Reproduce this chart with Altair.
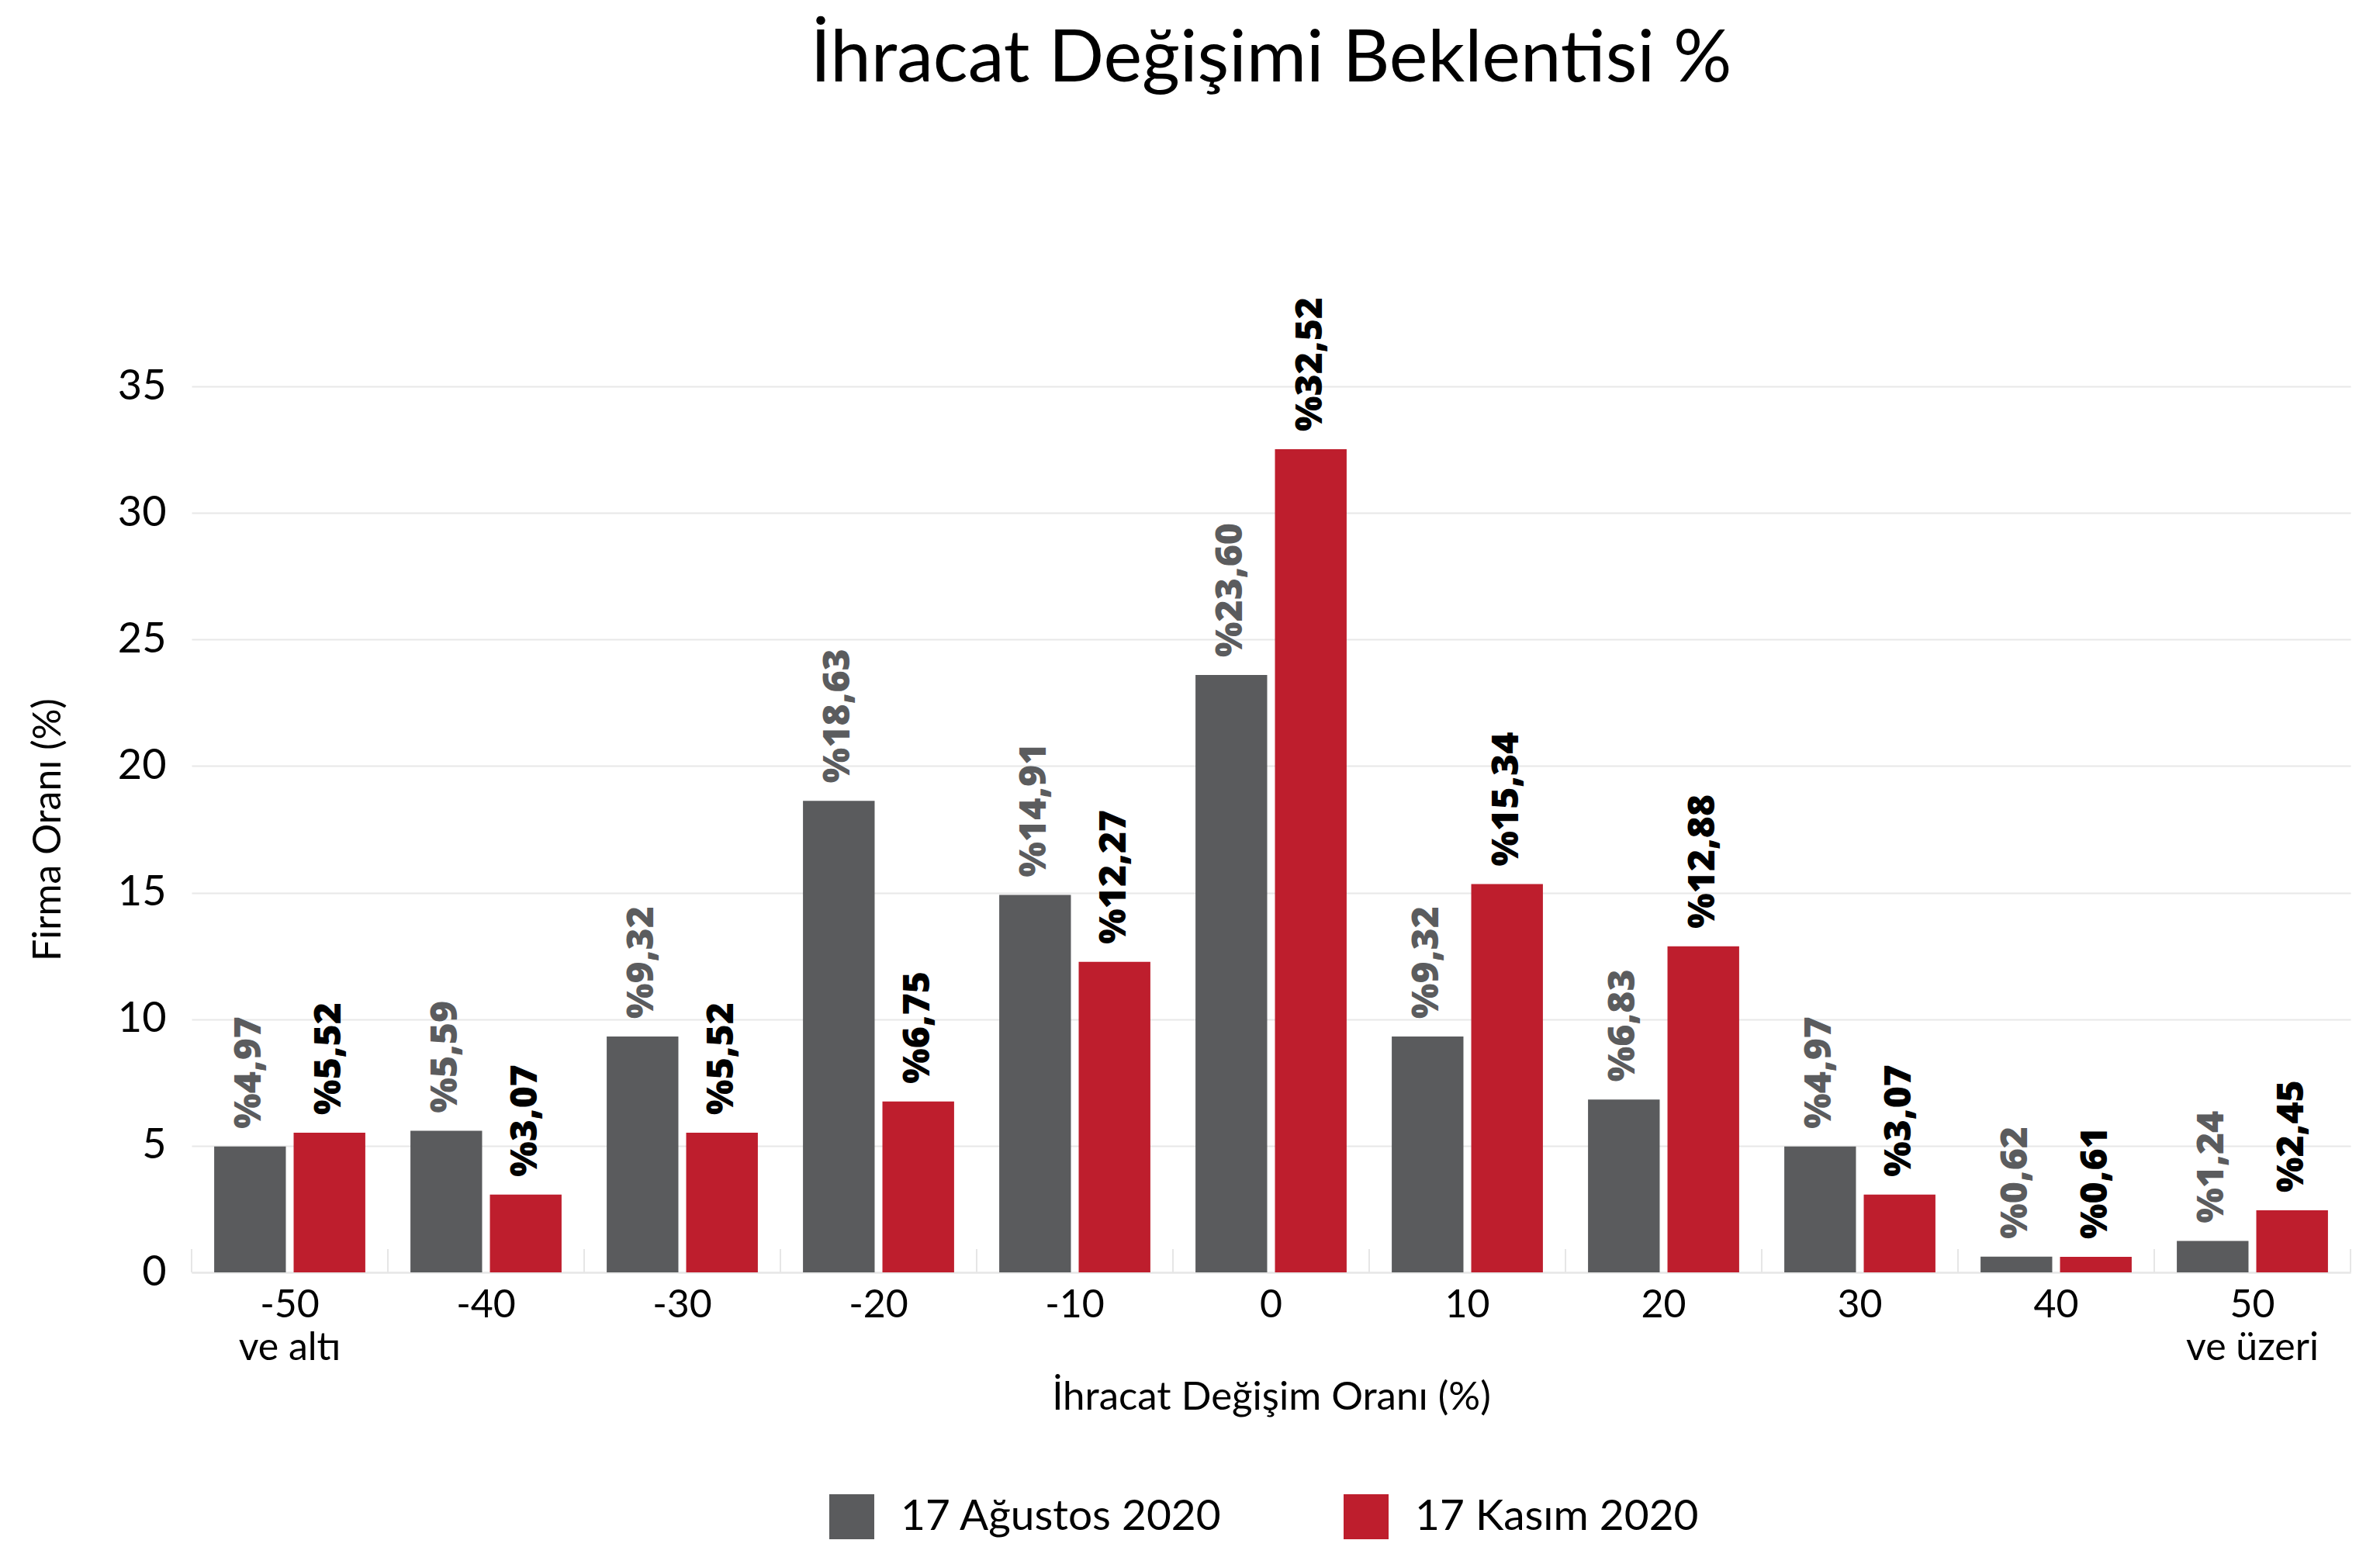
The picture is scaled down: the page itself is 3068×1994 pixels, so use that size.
import altair as alt
import pandas as pd

categories = ["-50|ve altı", "-40", "-30", "-20", "-10", "0", "10", "20", "30", "40", "50|ve üzeri"]
series_names = ["17 Ağustos 2020", "17 Kasım 2020"]
aug_values = [4.97, 5.59, 9.32, 18.63, 14.91, 23.60, 9.32, 6.83, 4.97, 0.62, 1.24]
nov_values = [5.52, 3.07, 5.52, 6.75, 12.27, 32.52, 15.34, 12.88, 3.07, 0.61, 2.45]
bar_colors = ["#5a5b5d", "#be1e2d"]
y_ticks = [0, 5, 10, 15, 20, 25, 30, 35]

rows = []
for c, a, n in zip(categories, aug_values, nov_values):
    rows.append({"cat": c, "series": series_names[0], "value": a})
    rows.append({"cat": c, "series": series_names[1], "value": n})
df = pd.DataFrame(rows)
df["label"] = df["value"].map(lambda v: "%" + f"{v:.2f}".replace(".", ","))

W, H = 2783, 1142
FONT = "Lato"

x_enc = alt.X(
    "cat:N", sort=categories,
    scale=alt.Scale(paddingInner=0, paddingOuter=0),
    axis=alt.Axis(
        title="İhracat Değişim Oranı (%)",
        labelExpr="split(datum.label, '|')",
        labelAngle=0, labelAlign="center", labelFlush=False,
        labelFontSize=50, labelLineHeight=55,
        labelPadding=42, ticks=False, tickSize=0,
        domainColor="#e6e6e6", domainWidth=2,
        titleFontSize=51, titlePadding=14, grid=False,
    ),
)
y_enc = alt.Y(
    "value:Q",
    scale=alt.Scale(domain=[0, 35], nice=False),
    axis=alt.Axis(
        title="Firma Oranı (%)", values=y_ticks, domain=False, ticks=False,
        tickSize=0, labelFontSize=54, labelPadding=33, titleFontSize=50,
        titlePadding=64, gridColor="#e8e8e8", gridWidth=2,
    ),
)
xoff = alt.XOffset("series:N", sort=series_names,
                   scale=alt.Scale(paddingInner=0.098, paddingOuter=0.284))

base = alt.Chart(df)
bars = base.mark_bar().encode(
    x=x_enc, y=y_enc, xOffset=xoff,
    color=alt.Color("series:N", sort=series_names,
                    scale=alt.Scale(domain=series_names, range=bar_colors),
                    legend=alt.Legend(
                        title=None, orient="none", legendX=822, legendY=1428,
                        direction="horizontal", symbolType="square",
                        symbolSize=3364, symbolStrokeWidth=0, labelFont=FONT,
                        labelFontSize=55, labelColor="black", labelOffset=34,
                        labelLimit=0, columnPadding=156, padding=0,
                    )),
)
labels = base.mark_text(angle=270, align="left", baseline="middle", dx=23,
                        font="Open Sans", fontWeight=800, fontSize=48).encode(
    x=alt.X("cat:N", sort=categories), y="value:Q", xOffset=xoff,
    text="label:N",
    color=alt.condition(alt.datum.series == series_names[0],
                        alt.value("#5b5c5e"), alt.value("#000000")),
)
tick_df = pd.DataFrame({"cat": categories})
ticks = alt.Chart(tick_df).mark_rule(color="#e6e6e6", strokeWidth=2).encode(
    x=alt.X("cat:N", sort=categories, bandPosition=0),
    y=alt.value(H - 30), y2=alt.value(H),
)
end_tick = alt.Chart(tick_df).transform_filter(
    alt.datum.cat == categories[-1]
).mark_rule(color="#e6e6e6", strokeWidth=2).encode(
    x=alt.X("cat:N", sort=categories, bandPosition=1),
    y=alt.value(H - 30), y2=alt.value(H),
)

chart = alt.layer(ticks, end_tick, bars, labels).properties(
    width=W, height=H,
    title=alt.TitleParams("İhracat Değişimi Beklentisi %", font=FONT,
                          fontSize=94, fontWeight="normal", color="black",
                          anchor="middle", frame="group", offset=258),
    padding={"left": 29, "top": 22, "right": 5, "bottom": 0},
).configure_axis(
    labelFont=FONT, titleFont=FONT, titleFontWeight="normal",
    titleColor="black", labelColor="black",
).configure_view(strokeWidth=0)

chart.save("out.html", embed_options={"renderer": "svg", "actions": False})
